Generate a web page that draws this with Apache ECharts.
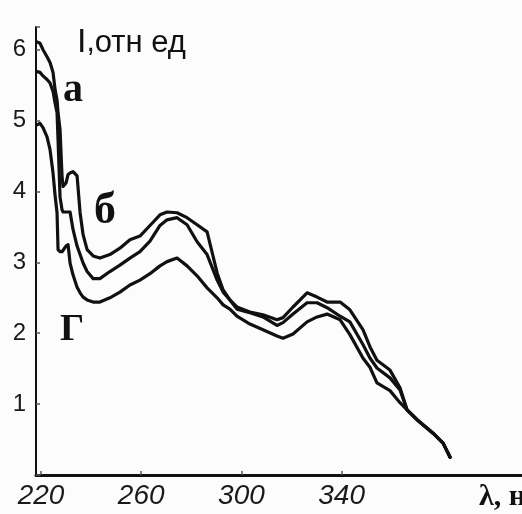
<!DOCTYPE html>
<html>
<head>
<meta charset="utf-8">
<script src="https://cdn.jsdelivr.net/npm/echarts@6/dist/echarts.min.js"></script>
<style>
html, body { margin: 0; padding: 0; background: #fcfcfc; }
#main { width: 522px; height: 514px; }
</style>
</head>
<body>
<div id="main"></div>
<script>
// длина волны, нм
var wavelength = [218.4, 219.6, 220.8, 222.4, 223.6, 224.8, 225.6, 226.4, 226.8, 227.6,
    228.4, 228.8, 230, 230.8, 231.6, 232.8, 234.4, 235.6, 236.8, 238.4,
    240.8, 243.5, 247.5, 251.5, 255.5, 259.5, 263.5, 267.5, 270.3, 274.3,
    278.3, 282.3, 286.3, 290.3, 292.7, 295.4, 298.2, 303.4, 308.6, 314.2,
    316.6, 320.6, 326.2, 330.2, 334.2, 339.4, 343.3, 348.5, 351.3, 354.1,
    359.3, 363.3, 366.1, 370.1, 376.5, 380.5, 383.3];

// кривая а
var curveA = [6.11, 6.09, 6.00, 5.90, 5.82, 5.68, 5.44, 5.29, 5.11, 4.87,
    4.21, 4.07, 4.12, 4.24, 4.26, 4.28, 4.22, 3.70, 3.39, 3.18,
    3.09, 3.06, 3.11, 3.20, 3.32, 3.37, 3.52, 3.67, 3.71, 3.70,
    3.63, 3.53, 3.43, 2.85, 2.61, 2.47, 2.37, 2.30, 2.26, 2.19,
    2.22, 2.37, 2.57, 2.51, 2.44, 2.44, 2.33, 2.05, 1.81, 1.62,
    1.48, 1.23, 0.92, 0.78, 0.59, 0.45, 0.25];

// кривая б
var curveB = [5.69, 5.68, 5.63, 5.58, 5.53, 5.41, 5.25, 5.11, 4.73, 3.92,
    3.74, 3.71, 3.71, 3.71, 3.71, 3.46, 3.23, 3.11, 2.99, 2.87,
    2.77, 2.77, 2.87, 2.96, 3.06, 3.15, 3.30, 3.52, 3.60, 3.63,
    3.53, 3.29, 3.11, 2.75, 2.58, 2.47, 2.34, 2.29, 2.23, 2.11,
    2.15, 2.27, 2.43, 2.43, 2.36, 2.24, 2.16, 1.84, 1.65, 1.51,
    1.37, 1.20, 0.92, 0.78, 0.59, 0.45, 0.25];

// кривая г
var curveG = [4.94, 4.96, 4.90, 4.77, 4.59, 4.26, 3.95, 3.70, 3.18, 3.15,
    3.15, 3.15, 3.23, 3.25, 2.99, 2.82, 2.65, 2.57, 2.51, 2.47,
    2.44, 2.44, 2.50, 2.58, 2.68, 2.75, 2.84, 2.95, 3.01, 3.06,
    2.95, 2.81, 2.64, 2.50, 2.40, 2.34, 2.24, 2.13, 2.05, 1.96,
    1.93, 1.99, 2.16, 2.23, 2.27, 2.19, 1.98, 1.65, 1.52, 1.30,
    1.19, 1.02, 0.92, 0.78, 0.59, 0.45, 0.25];

var xTicks = [220, 260, 300, 340];

function pairs(ys) {
    return wavelength.map(function (x, i) { return [x, ys[i]]; });
}

function curve(name, ys) {
    return {
        name: name,
        type: 'line',
        data: pairs(ys),
        showSymbol: false,
        silent: true,
        lineStyle: { color: '#111', width: 3.2, join: 'round', cap: 'round' }
    };
}

var chart = echarts.init(document.getElementById('main'));
var option = {
    backgroundColor: '#fcfcfc',
    animation: false,
    grid: { left: 36, right: 0, top: 27, bottom: 39, outerBoundsMode: 'none' },
    xAxis: {
        type: 'value',
        min: 218,
        max: 412,
        splitLine: { show: false },
        axisLine: { lineStyle: { color: '#111', width: 3 } },
        axisTick: { inside: true, length: 4, customValues: xTicks, lineStyle: { color: '#555', width: 1.5 } },
        axisLabel: {
            customValues: xTicks,
            fontFamily: 'Liberation Sans',
            fontStyle: 'italic',
            fontSize: 28,
            color: '#1a1a1a',
            margin: 7
        }
    },
    yAxis: {
        type: 'value',
        min: 0,
        max: 6.32,
        interval: 1,
        name: '{b|I},{n|отн ед}',
        nameLocation: 'end',
        nameGap: -16,
        nameTextStyle: {
            align: 'left',
            verticalAlign: 'middle',
            padding: [0, 0, 0, 41],
            fontFamily: 'Liberation Sans',
            fontSize: 30,
            color: '#111',
            rich: {
                b: { fontFamily: 'Liberation Sans', fontSize: 34, color: '#111' },
                n: { fontFamily: 'Liberation Sans', fontSize: 31, color: '#111' }
            }
        },
        splitLine: { show: false },
        axisLine: { lineStyle: { color: '#111', width: 2 } },
        axisTick: { inside: true, length: 4, lineStyle: { color: '#555', width: 1.5 } },
        axisLabel: {
            fontFamily: 'Liberation Sans',
            fontSize: 24,
            color: '#1a1a1a',
            margin: 10,
            formatter: function (v) { return (v === 0 || v % 1) ? '' : v; }
        }
    },
    graphic: [
        { type: 'text', style: { text: 'а', x: 73, y: 91, textAlign: 'center', textVerticalAlign: 'middle', font: 'bold 40px "Liberation Serif"', fill: '#111' } },
        { type: 'text', style: { text: 'б', x: 105, y: 212, textAlign: 'center', textVerticalAlign: 'middle', font: 'bold 44px "Liberation Serif"', fill: '#111' } },
        { type: 'text', style: { text: 'Г', x: 72, y: 330, textAlign: 'center', textVerticalAlign: 'middle', font: 'bold 38px "Liberation Serif"', fill: '#111' } },
        { type: 'text', style: { text: 'λ, нм', x: 479, y: 497, textAlign: 'left', textVerticalAlign: 'middle', font: 'bold 30px "Liberation Serif"', fill: '#111' } }
    ],
    series: [
        curve('а', curveA),
        curve('б', curveB),
        curve('г', curveG)
    ]
};
chart.setOption(option);
</script>
</body>
</html>
